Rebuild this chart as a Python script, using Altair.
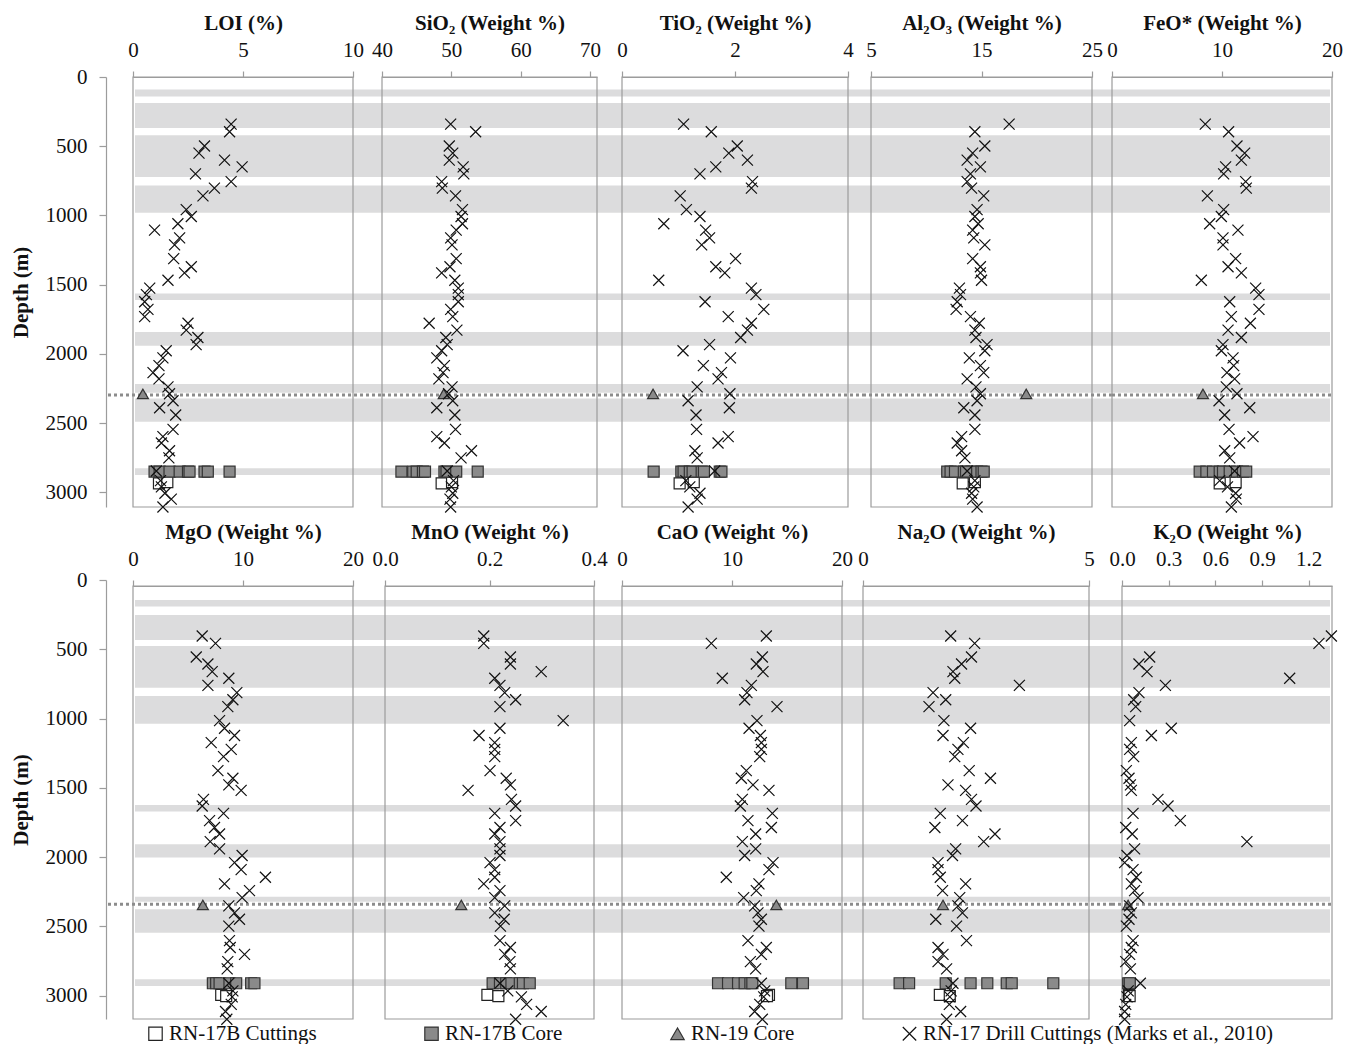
import altair as alt
import pandas as pd

FONT = "Liberation Serif"
SERIES = ["RN-17B Cuttings", "RN-17B Core", "RN-19 Core",
          "RN-17 Drill Cuttings (Marks et al., 2010)"]
X_PATH = "M-1,-1L1,1M-1,1L1,-1"

# ---------------- top row (depth in m) ----------------
TOP_DEPTH = [340, 395, 498, 550, 600, 649, 700, 755, 802, 858,
             958, 1007, 1060, 1106, 1162, 1212, 1312, 1370, 1414, 1468,
             1525, 1572, 1623, 1678, 1730, 1778, 1828, 1881, 1932, 1977,
             2028, 2084, 2135, 2180, 2238, 2287, 2338, 2388, 2441, 2545,
             2597, 2643, 2699, 2750, 2845, 2915, 2960, 3006, 3048, 3105]
LOI = [4.46, 4.39, 3.25, 3.0, 4.16, 4.96, 2.84, 4.46, 3.7, 3.18,
       2.42, 2.65, 2.04, 0.98, 2.12, 1.89, 1.85, 2.65, 2.34, 1.59,
       0.76, 0.61, 0.53, 0.68, 0.53, 2.5, 2.42, 2.95, 2.87, 1.51,
       1.36, 1.18, 0.91, 1.18, 1.59, 1.66, 1.82, 1.21, 1.94, 1.82,
       1.36, 1.29, 1.66, 1.63, 1.06, 1.25, 1.29, 1.45, 1.74, 1.36]
SIO2 = [49.9, 53.5, 49.7, 50.2, 49.7, 51.7, 51.8, 48.6, 48.7, 50.6,
        51.6, 51.4, 51.6, 50.7, 49.9, 50.1, 50.7, 49.8, 48.6, 50.5,
        51.0, 51.0, 51.0, 49.9, 50.2, 46.8, 50.8, 49.2, 49.4, 48.6,
        47.9, 49.0, 48.8, 48.2, 50.1, 49.6, 50.2, 47.9, 50.5, 50.6,
        47.9, 49.0, 52.9, 51.4, 49.4, 50.3, 50.0, 50.2, 49.8, 49.9]
TIO2 = [1.09, 1.58, 2.04, 1.89, 2.22, 1.66, 1.38, 2.31, 2.29, 1.03,
        1.14, 1.38, 0.74, 1.48, 1.55, 1.41, 2.01, 1.66, 1.82, 0.65,
        2.29, 2.37, 1.47, 2.51, 1.88, 2.29, 2.22, 2.10, 1.55, 1.08,
        1.92, 1.44, 1.76, 1.70, 1.33, 1.91, 1.17, 1.90, 1.31, 1.32,
        1.88, 1.70, 1.29, 1.33, 1.64, 1.13, 1.20, 1.38, 1.33, 1.17]
AL2O3 = [17.5, 14.4, 15.3, 14.2, 13.7, 14.9, 14.0, 13.7, 14.1, 15.2,
         14.6, 14.4, 14.7, 14.2, 14.3, 15.3, 14.2, 14.9, 14.9, 15.0,
         13.0, 13.1, 12.8, 12.7, 14.0, 14.8, 14.4, 14.5, 15.5, 15.3,
         13.9, 14.9, 15.2, 13.7, 14.5, 14.9, 14.6, 13.4, 14.4, 14.4,
         13.2, 12.8, 13.2, 13.5, 13.7, 14.4, 14.3, 14.1, 14.2, 14.6]
FEO = [8.48, 10.6, 11.36, 12.06, 11.76, 10.33, 10.15, 12.15, 12.21, 8.67,
       10.15, 9.94, 8.88, 11.45, 10.09, 10.09, 11.24, 10.55, 11.76, 8.12,
       13.06, 13.36, 10.7, 13.36, 10.85, 12.58, 10.55, 11.76, 10.09, 9.94,
       11.0, 11.06, 10.45, 11.15, 10.39, 11.36, 9.73, 12.52, 10.24, 10.64,
       12.82, 11.6, 10.24, 10.7, 11.15, 9.79, 10.5, 11.24, 11.3, 10.85]

CORE_TOP_DEPTH = 2850
LOI_CORE = [0.98, 1.21, 1.66, 2.12, 2.5, 2.57, 3.25, 3.4, 4.39]
SIO2_CORE = [42.8, 44.5, 45.0, 45.9, 46.2, 49.0, 49.3, 50.7, 53.8]
TIO2_CORE = [0.56, 1.05, 1.09, 1.2, 1.25, 1.41, 1.45, 1.73, 1.76]
AL2O3_CORE = [11.9, 12.2, 12.6, 13.4, 14.1, 14.6, 15.0, 15.2, 13.6]
FEO_CORE = [7.97, 8.58, 9.18, 9.79, 10.09, 10.7, 11.36, 11.9, 12.2]

CUT_TOP_DEPTH = [2935, 2925]
LOI_CUT = [1.18, 1.56]
SIO2_CUT = [48.6, 50.1]
TIO2_CUT = [1.02, 1.27]
AL2O3_CUT = [13.3, 14.4]
FEO_CUT = [9.79, 11.24]

RN19_TOP_DEPTH = 2288
RN19_TOP = [0.45, 48.9, 0.55, 19.05, 8.27]   # LOI, SiO2, TiO2, Al2O3, FeO*

TOP_BAND_FROM = [90, 188, 421, 783, 1563, 1842, 2217, 2321, 2826]
TOP_BAND_TO = [140, 368, 722, 981, 1611, 1940, 2280, 2489, 2874]
TOP_DOTTED = 2297

# ---------------- bottom row ----------------
BOT_DEPTH = [404, 457, 556, 606, 661, 709, 760, 813, 864, 914,
             1015, 1070, 1122, 1174, 1222, 1275, 1376, 1431, 1479, 1518,
             1583, 1631, 1684, 1736, 1786, 1833, 1888, 1940, 1988, 2040,
             2090, 2145, 2193, 2242, 2292, 2352, 2402, 2448, 2498, 2602,
             2652, 2702, 2754, 2806, 2910, 2965, 3008, 3062, 3114, 3170]
MGO = [6.29, 7.50, 5.75, 6.81, 7.20, 8.71, 6.81, 9.44, 9.08, 8.62,
       7.87, 8.32, 9.23, 7.11, 8.93, 8.23, 7.72, 9.08, 8.71, 9.83,
       6.41, 6.29, 8.23, 6.96, 7.41, 7.87, 7.02, 7.87, 9.92, 9.23,
       9.83, 12.04, 8.32, 10.59, 9.92, 8.71, 9.23, 9.68, 8.71, 8.77,
       8.84, 10.14, 8.62, 8.56, 8.71, 9.08, 9.02, 8.93, 8.41, 8.53]
MNO = [0.189, 0.189, 0.240, 0.240, 0.299, 0.210, 0.220, 0.229, 0.250, 0.220,
       0.341, 0.220, 0.180, 0.210, 0.210, 0.210, 0.201, 0.232, 0.240, 0.159,
       0.242, 0.250, 0.210, 0.250, 0.220, 0.210, 0.220, 0.220, 0.220, 0.201,
       0.210, 0.210, 0.189, 0.220, 0.210, 0.229, 0.210, 0.228, 0.221, 0.220,
       0.240, 0.229, 0.239, 0.240, 0.220, 0.235, 0.261, 0.271, 0.299, 0.250]
CAO = [13.12, 8.12, 12.76, 12.21, 12.82, 9.12, 11.76, 11.36, 11.15, 14.09,
       12.27, 11.55, 12.58, 12.67, 12.67, 12.52, 11.3, 10.85, 11.91, 13.36,
       10.94, 10.76, 13.67, 11.45, 13.58, 12.15, 10.94, 12.15, 11.15, 13.73,
       13.36, 9.48, 12.45, 12.21, 11.06, 12.06, 12.36, 12.67, 12.45, 11.45,
       13.12, 12.67, 11.67, 12.15, 12.67, 12.97, 12.88, 12.52, 12.06, 12.76]
NA2O = [1.94, 2.47, 2.40, 2.18, 1.99, 2.03, 3.46, 1.55, 1.83, 1.46,
        1.79, 2.38, 1.77, 2.22, 2.10, 2.03, 2.35, 2.82, 1.88, 2.27,
        2.40, 2.50, 1.71, 2.20, 1.59, 2.92, 2.67, 2.05, 1.98, 1.66,
        1.66, 1.71, 2.27, 1.76, 2.14, 2.10, 2.20, 1.61, 2.07, 2.29,
        1.66, 1.77, 1.66, 1.85, 1.99, 1.95, 1.92, 1.91, 2.16, 1.85]
K2O = [1.346, 1.266, 0.178, 0.109, 0.161, 1.078, 0.279, 0.109, 0.075, 0.088,
       0.049, 0.317, 0.189, 0.060, 0.049, 0.075, 0.028, 0.045, 0.054, 0.060,
       0.231, 0.296, 0.071, 0.375, 0.024, 0.066, 0.803, 0.081, 0.032, 0.017,
       0.071, 0.092, 0.060, 0.081, 0.103, 0.049, 0.060, 0.045, 0.028, 0.071,
       0.060, 0.049, 0.024, 0.054, 0.118, 0.040, 0.032, 0.024, 0.017, 0.017]

CORE_BOT_DEPTH = 2910
MGO_CORE = [7.26, 7.56, 7.87, 8.77, 9.38, 10.74, 11.04]
MNO_CORE = [0.206, 0.220, 0.232, 0.242, 0.258, 0.264, 0.277]
CAO_CORE = [8.73, 9.64, 10.55, 11.15, 11.67, 11.85, 15.39, 16.45]
NA2O_CORE = [0.81, 1.02, 1.83, 2.38, 2.75, 3.18, 3.29, 4.21]
K2O_CORE = [0.040, 0.050]

CUT_BOT_DEPTH = [2994, 3003]
MGO_CUT = [8.02, 8.47]
MNO_CUT = [0.196, 0.217]
CAO_CUT = [13.36, 13.18]
NA2O_CUT = [1.70, 1.92]
K2O_CUT = [0.045, 0.049]

RN19_BOT_DEPTH = 2345
RN19_BOT = [6.35, 0.146, 14.03, 1.77, 0.039]  # MgO, MnO, CaO, Na2O, K2O

BOT_BAND_FROM = [144, 253, 476, 837, 1623, 1907, 2285, 2376, 2881]
BOT_BAND_TO = [192, 433, 777, 1037, 1671, 2003, 2321, 2545, 2929]
BOT_DOTTED = 2340

# ---------------- styling ----------------
SHAPES = ["square", "square", "triangle-up", X_PATH]
FILLS = ["#ffffff", "#8a8a8a", "#8a8a8a", "transparent"]
STROKES = ["#222222", "#333333", "#333333", "#111111"]
GRAYLINE = "#9c9c9c"
BAND = "#dcdcdd"
COL_W = [249, 240, 241, 249, 220]   # grid column widths (px)

LEG = alt.Legend(title=None, orient="none", legendX=12, legendY=946,
                 direction="horizontal", labelFont=FONT, labelFontSize=21,
                 labelColor="#111111", symbolSize=180, labelOffset=3,
                 columnPadding=104, padding=0, symbolStrokeWidth=1.2,
                 symbolOpacity=1, labelLimit=500)


def make_panel(title, depths, drill, core, core_depth, cut, cut_depths,
               rn19, rn19_depth, xdom, xticks, xfmt, off, dataw, W, H, ydom,
               bfrom, bto, dotted, first, last, box_top):
    rows = []
    for v, d in zip(cut, cut_depths):
        rows.append({"series": SERIES[0], "depth": d, "value": v})
    for v in core:
        rows.append({"series": SERIES[1], "depth": core_depth, "value": v})
    rows.append({"series": SERIES[2], "depth": rn19_depth, "value": rn19})
    for d, v in zip(depths, drill):
        rows.append({"series": SERIES[3], "depth": d, "value": v})
    df = pd.DataFrame(rows)

    yscale = alt.Scale(domain=[0, ydom], reverse=True, nice=False, zero=False)
    if first:
        yaxis = alt.Axis(values=list(range(0, 3001, 500)), title="Depth (m)",
                         offset=27, tickSize=7, labelPadding=12,
                         titlePadding=14, format="d")
    else:
        yaxis = None

    bx0 = 2 if first else 0
    bx1 = off + dataw - 2 if last else W
    bands = alt.Chart(pd.DataFrame({"d0": bfrom, "d1": bto})).mark_rect(
        color=BAND).encode(
        x=alt.value(bx0), x2=alt.value(bx1),
        y=alt.Y("d0:Q", scale=yscale, axis=yaxis), y2="d1:Q")

    box = alt.Chart(pd.DataFrame({"k": [0]})).mark_rect(
        fillOpacity=0, stroke=GRAYLINE, strokeWidth=1.2).encode(
        x=alt.value(off), x2=alt.value(off + dataw),
        y=alt.value(box_top), y2=alt.value(H))

    rx0 = -25 if first else 0
    rx1 = off + dataw if last else W
    rule = alt.Chart(pd.DataFrame({"dl": [dotted]})).mark_rule(
        color="#8c8c8c", strokeWidth=3, strokeDash=[3, 3]).encode(
        x=alt.value(rx0), x2=alt.value(rx1),
        y=alt.Y("dl:Q", scale=yscale, axis=yaxis))

    pts = alt.Chart(df).mark_point(opacity=1, strokeWidth=1.2, size=121).encode(
        x=alt.X("value:Q",
                scale=alt.Scale(domain=xdom, range=[off, off + dataw], nice=False, zero=False),
                axis=alt.Axis(orient="top", title=title, values=xticks, format=xfmt,
                              labelFlush=False, tickSize=6, labelPadding=11,
                              titlePadding=6, offset=-box_top)),
        y=alt.Y("depth:Q", scale=yscale, axis=yaxis),
        shape=alt.Shape("series:N", scale=alt.Scale(domain=SERIES, range=SHAPES), legend=LEG),
        fill=alt.Fill("series:N", scale=alt.Scale(domain=SERIES, range=FILLS), legend=LEG),
        stroke=alt.Stroke("series:N", scale=alt.Scale(domain=SERIES, range=STROKES), legend=LEG),
    )
    return alt.layer(bands, box, rule, pts).properties(width=W, height=H)


TOP_H, TOP_YMAX = 430, 3105
BOT_H, BOT_YMAX = 439, 3168

# title, drill, core, cuttings, RN-19, x domain, ticks, format, offset, data width
top_specs = [
    ("LOI (%)", LOI, LOI_CORE, LOI_CUT, RN19_TOP[0], [0, 10], [0, 5, 10], "d", 0, 220),
    ("SiO\u2082 (Weight %)", SIO2, SIO2_CORE, SIO2_CUT, RN19_TOP[1], [40, 71], [40, 50, 60, 70], "d", 0, 215),
    ("TiO\u2082 (Weight %)", TIO2, TIO2_CORE, TIO2_CUT, RN19_TOP[2], [0, 4], [0, 2, 4], "d", 0, 226),
    ("Al\u2082O\u2083 (Weight %)", AL2O3, AL2O3_CORE, AL2O3_CUT, RN19_TOP[3], [5, 25], [5, 15, 25], "d", 8, 221),
    ("FeO* (Weight %)", FEO, FEO_CORE, FEO_CUT, RN19_TOP[4], [0, 20], [0, 10, 20], "d", 0, 220),
]
bot_specs = [
    ("MgO (Weight %)", MGO, MGO_CORE, MGO_CUT, RN19_BOT[0], [0, 20], [0, 10, 20], "d", 0, 220),
    ("MnO (Weight %)", MNO, MNO_CORE, MNO_CUT, RN19_BOT[1], [0, 0.4], [0, 0.2, 0.4], ".1f", 3, 209),
    ("CaO (Weight %)", CAO, CAO_CORE, CAO_CUT, RN19_BOT[2], [0, 20], [0, 10, 20], "d", 0, 220),
    ("Na\u2082O (Weight %)", NA2O, NA2O_CORE, NA2O_CUT, RN19_BOT[3], [0, 5], [0, 5], "d", 0, 226),
    ("K\u2082O (Weight %)", K2O, K2O_CORE, K2O_CUT, RN19_BOT[4], [0, 1.35], [0, 0.3, 0.6, 0.9, 1.2], ".1f", 10, 210),
]

panels = []
for i, (t, drill, core, cut, rn, xd, xt, fmt, off, dw) in enumerate(top_specs):
    panels.append(make_panel(t, TOP_DEPTH, drill, core, CORE_TOP_DEPTH, cut,
                             CUT_TOP_DEPTH, rn, RN19_TOP_DEPTH, xd, xt, fmt, off, dw,
                             COL_W[i], TOP_H, TOP_YMAX, TOP_BAND_FROM, TOP_BAND_TO,
                             TOP_DOTTED, i == 0, i == 4, 0))
for i, (t, drill, core, cut, rn, xd, xt, fmt, off, dw) in enumerate(bot_specs):
    panels.append(make_panel(t, BOT_DEPTH, drill, core, CORE_BOT_DEPTH, cut,
                             CUT_BOT_DEPTH, rn, RN19_BOT_DEPTH, xd, xt, fmt, off, dw,
                             COL_W[i], BOT_H, BOT_YMAX, BOT_BAND_FROM, BOT_BAND_TO,
                             BOT_DOTTED, i == 0, i == 4, 6))

chart = alt.concat(*panels, columns=5, spacing={"row": 73, "column": 0},
                   bounds="flush").resolve_scale(
    shape="shared", fill="shared", stroke="shared"
).configure_view(strokeWidth=0).configure_axis(
    labelFont=FONT, labelFontSize=21, titleFont=FONT, titleFontSize=21,
    titleFontWeight="bold", labelColor="#111111", titleColor="#111111",
    domainColor=GRAYLINE, tickColor=GRAYLINE, domainWidth=1.2, tickWidth=1.2,
    grid=False
).properties(background="white", padding={"left": 2, "top": 4, "right": 0, "bottom": 0})

chart.save("out.html", embed_options={"renderer": "svg", "actions": False})
